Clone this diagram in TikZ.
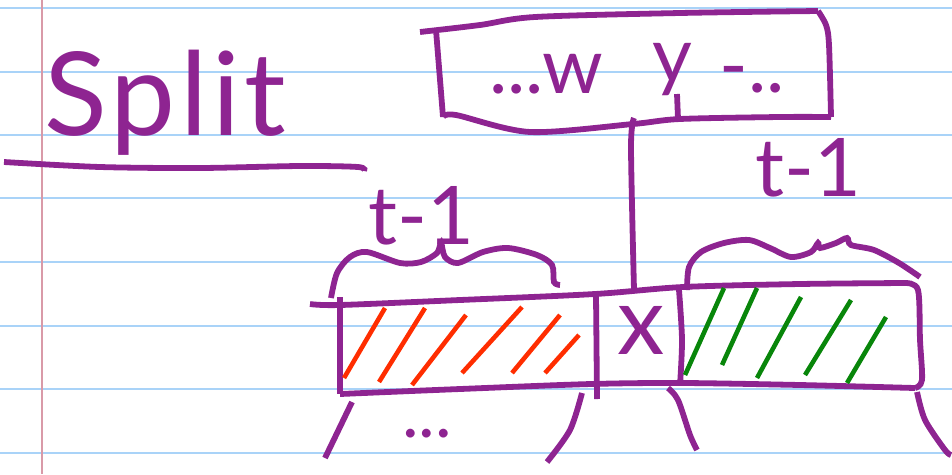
\documentclass[tikz,border=0pt]{standalone}
\usepackage{fontspec}
\newfontfamily\handfont{Lato}
\newfontfamily\titlefont[LetterSpace=4]{Lato}
\usetikzlibrary{calc}
\definecolor{quill}{HTML}{8E2491}
\definecolor{hatchred}{HTML}{FF2D00}
\definecolor{hatchgreen}{HTML}{08860A}
\definecolor{ruling}{HTML}{A9D3F8}
\definecolor{marginpink}{HTML}{D99AA8}
\tikzset{line cap=round,line join=round,
  pen/.style={draw=quill,line width=3.3pt},
  ink/.style={text=quill,inner sep=0pt,font=\handfont},
  redhatch/.style={draw=hatchred,line width=2.6pt},
  greenhatch/.style={draw=hatchgreen,line width=2.6pt},
  paperline/.style={draw=ruling,line width=1.3pt},
  marginline/.style={draw=marginpink,line width=.7pt}}

\begin{document}
\begin{tikzpicture}[x=.02cm,y=-.02cm]
\useasboundingbox (0,0) rectangle (952,474);
% lined paper
\foreach \y in {8,72,135,198,262,326,389,453}{\draw[paperline] (0,\y)--(952,\y);}
\draw[marginline] (42,0)--(42,474);
% title
\node[ink,anchor=base west,font=\titlefont\fontsize{66}{66}\selectfont] (title) at (44,135) {Split};
\draw[pen] plot[smooth] coordinates {(4,162) (100,167) (200,168) (300,166) (358,167) (364,171)};
% node being split
\draw[pen] plot[smooth] coordinates {(420,32) (480,25) (535,17) (680,13) (818,11)};
\draw[pen] plot[smooth] coordinates {(818,11) (826,25) (829,45) (831,117)};
\draw[pen] plot[smooth] coordinates {(443,117) (456,115) (530,132) (633,124) (680,119) (780,117) (831,117)};
\draw[pen] (436,30)--(443,117);
\node[ink,font=\handfont\fontsize{44}{44}\selectfont] (lead) at (546,74) {...w};
\node[ink,font=\handfont\fontsize{44}{44}\selectfont] (ychar) at (672,70) {y};
\node[ink,font=\handfont\fontsize{44}{44}\selectfont] (trail) at (752,80) {-..};
\draw[pen] (677,94)--(678,119);
% link down to the bar
\coordinate (rowfoot) at (634,118);
\coordinate (barhead) at (634,290);
\draw[pen] plot[smooth] coordinates {(rowfoot) (631,147) (barhead)};
% the split bar
\draw[pen] plot[smooth] coordinates {(310,304) (340,305) (460,300) (595,294) (683,287) (800,284) (905,283)};
\draw[pen] plot[smooth] coordinates {(905,283) (918,290) (920,340) (922,380) (915,388)};
\draw[pen] plot[smooth] coordinates {(915,388) (800,385) (683,383) (591,384) (460,389) (340,394)};
\draw[pen] (340,297)--(340,394);
\draw[pen] (596,295)--(597,399);
\draw[pen] plot[smooth] coordinates {(679,290) (682,340) (680,385)};
\node[ink,font=\handfont\fontsize{54}{54}\selectfont] (cut) at (641,330) {x};
% hatching
\foreach \xa/\ya/\xb/\yb in {344/378/385/308,379/382/425/308,412/385/466/315,462/373/522/307,512/373/560/315,545/373/579/335}
  {\draw[redhatch] (\xa,\ya)--(\xb,\yb);}
\foreach \xa/\ya/\xb/\yb in {685/375/724/288,722/365/757/288,757/378/801/297,805/375/851/300,847/383/886/317}
  {\draw[greenhatch] (\xa,\ya)--(\xb,\yb);}
% braces and their labels
\draw[pen] plot[smooth] coordinates {(331,298) (337,273) (350,257) (367,252) (400,263) (421,262) (437,253) (441,243) (445,257) (458,263) (483,252) (508,248) (537,255) (552,265) (554,282) (560,285)};
\draw[pen] plot[smooth] coordinates {(687,290) (689,267) (701,252) (724,243) (749,240) (770,248) (791,257) (811,252) (818,243) (820,248) (836,243) (847,238) (851,245) (874,250) (899,263) (920,277)};
\node[ink,font=\handfont\fontsize{46}{46}\selectfont] (leftsize) at (421,216) {t-1};
\node[ink,font=\handfont\fontsize{46}{46}\selectfont] (rightsize) at (808,168) {t-1};
% children below
\draw[pen] (352,402)--(325,458);
\draw[pen] plot[smooth] coordinates {(582,393) (570,430) (547,462)};
\draw[pen] plot[smooth] coordinates {(668,388) (678,400) (690,435) (697,450)};
\draw[pen] plot[smooth] coordinates {(917,392) (925,420) (945,450) (951,455)};
\node[ink,font=\handfont\fontsize{40}{40}\selectfont] (more) at (427,434) {...};
\end{tikzpicture}
\end{document}
